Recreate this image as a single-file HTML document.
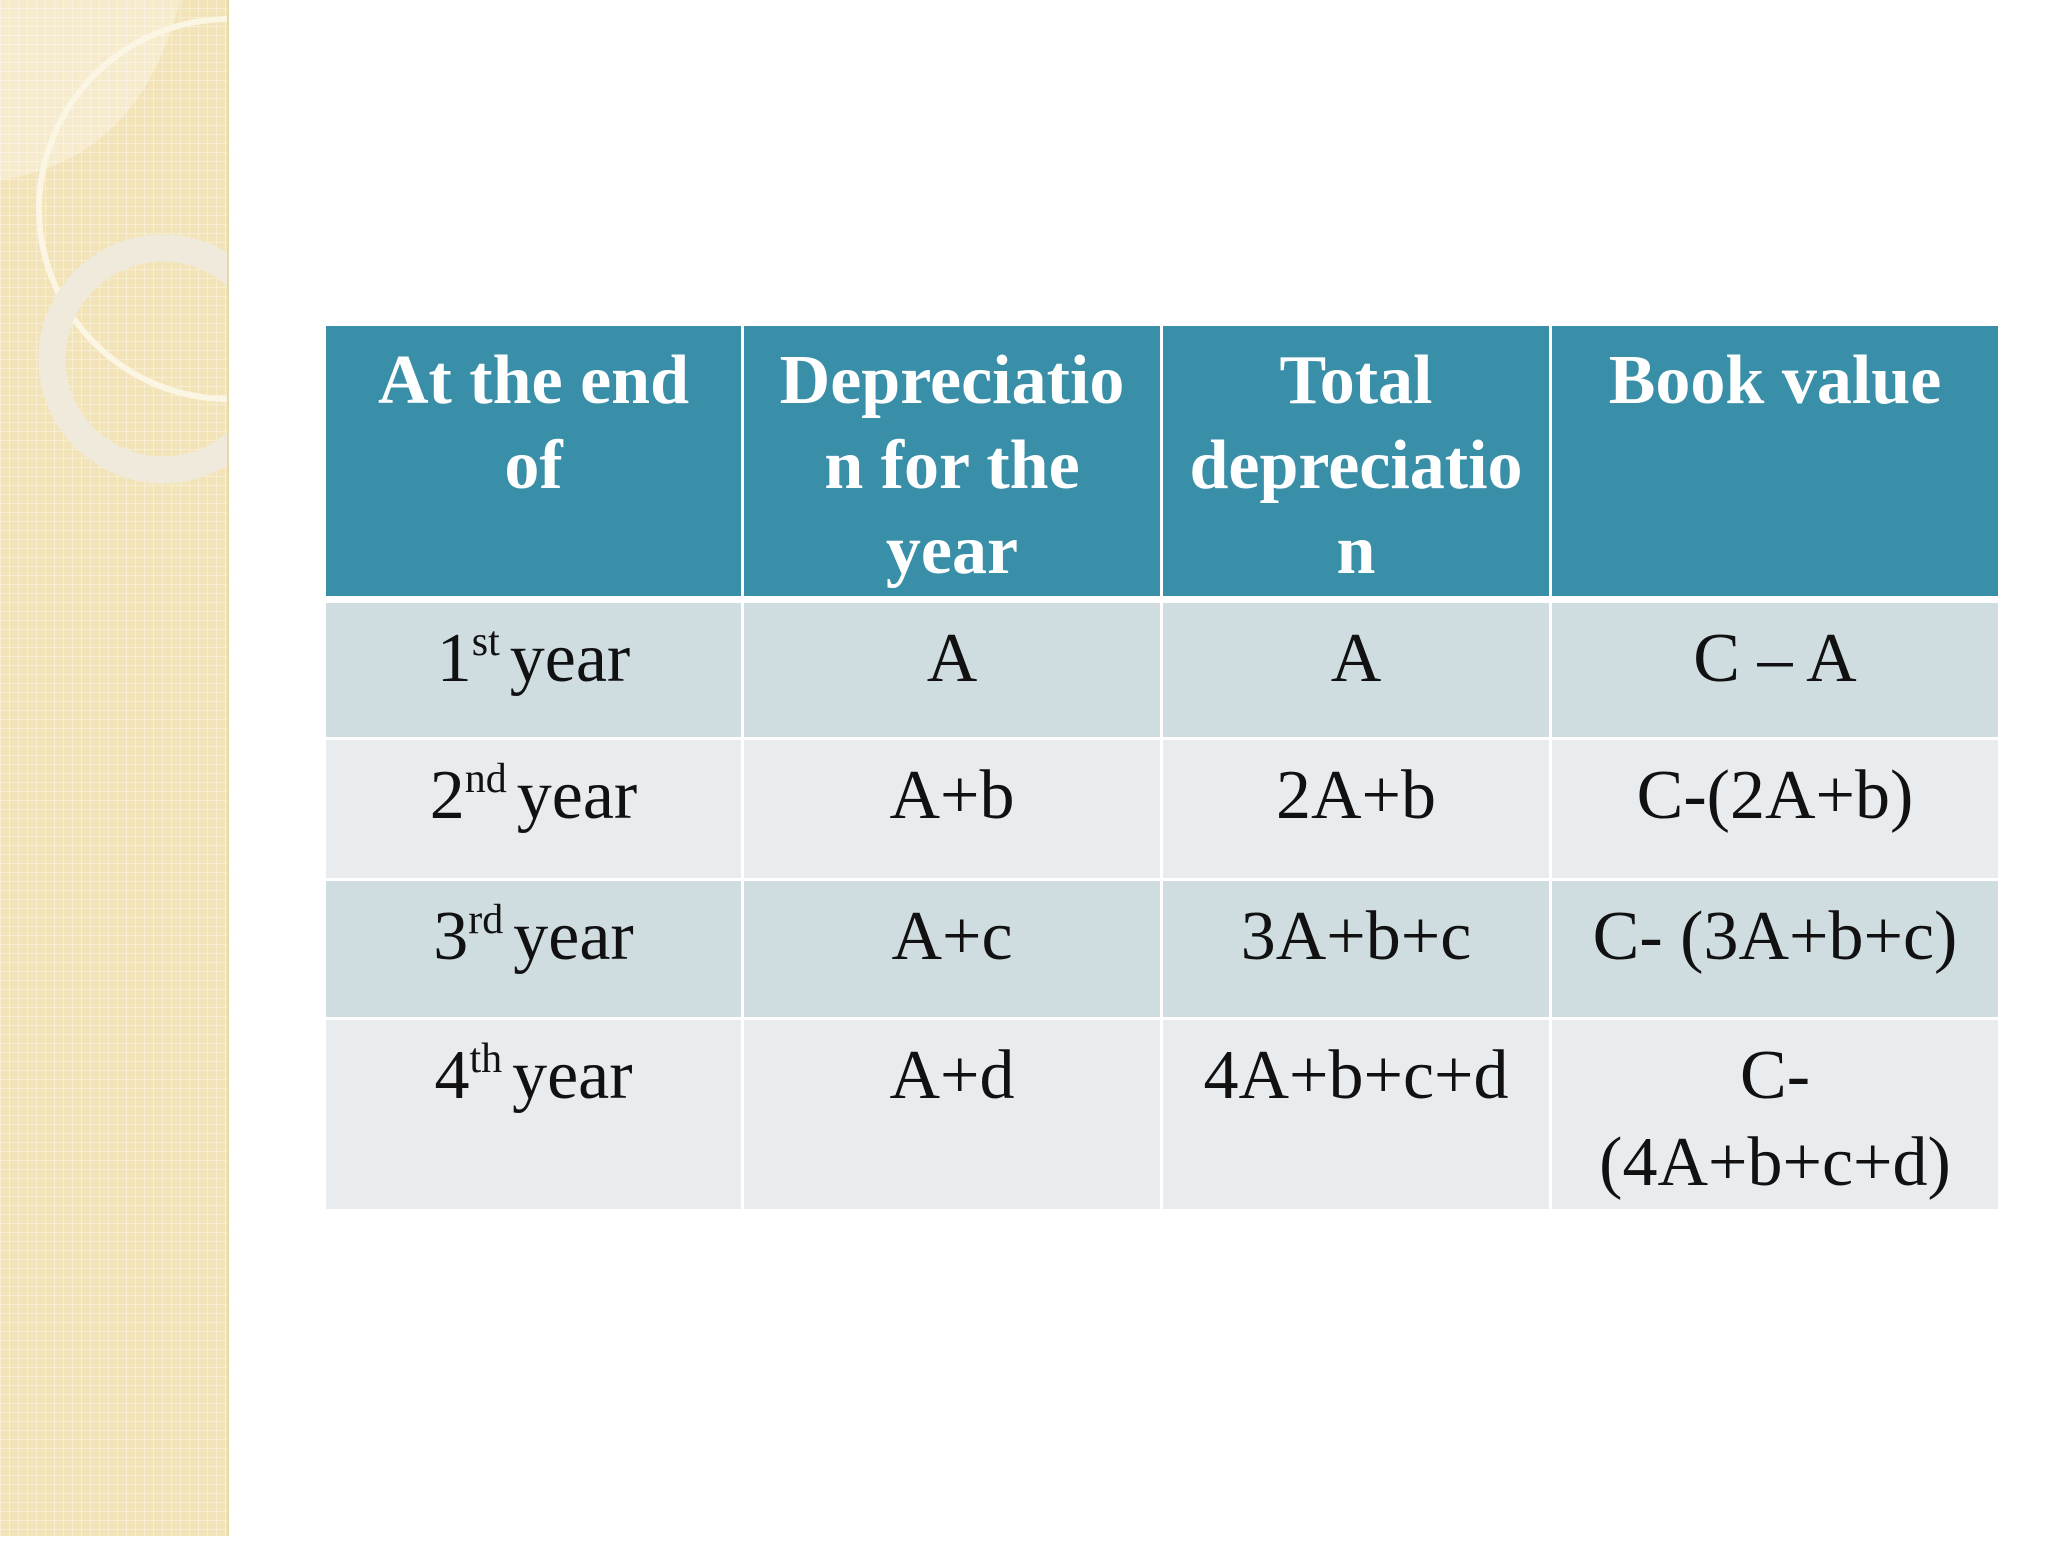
<!DOCTYPE html>
<html><head><meta charset="utf-8"><style>
body{margin:0;width:2048px;height:1536px;background:#fff;position:relative;overflow:hidden;font-family:"Liberation Serif",serif}
#strip{position:absolute;left:0;top:0;width:227px;height:1536px;background-color:#f3e3b8;
background-image:linear-gradient(90deg,rgba(255,255,255,.35) 1px,transparent 1px),linear-gradient(0deg,rgba(255,255,255,.35) 1px,transparent 1px);background-size:9px 9px;border-right:2px solid #e8d7a8}
table{position:absolute;left:323px;top:323px;width:1675px;border-collapse:collapse;table-layout:fixed}
td,th{border:3px solid #fff;text-align:center;vertical-align:top;padding:0;box-sizing:border-box}
th{background:#3a8fa8;color:#fff;font-weight:bold;font-size:70px;line-height:85px;height:275px;padding-top:12px;border-bottom-width:7px}
td{font-size:70px;line-height:87px;color:#111;padding-top:12px}
tr.o td{background:#cfdde1;height:139px}
tr.e td{background:#e8ecef;height:141px}
tr.l td{height:192px}
sup{font-size:42px;vertical-align:baseline;position:relative;top:-26px;line-height:0;margin-right:10px}
</style></head><body>
<div id="strip">
<svg width="227" height="1536">
<path d="M0 0 H180 Q140 160 0 180 Z" fill="rgba(255,255,255,.3)"/>
<circle cx="229" cy="209" r="190" fill="none" stroke="#fbf5e3" stroke-width="6"/>
<circle cx="163" cy="359" r="111" fill="none" stroke="#efeadb" stroke-width="27"/>
</svg></div>
<table>
<colgroup><col style="width:418px"><col style="width:419px"><col style="width:389px"><col style="width:449px"></colgroup>
<tr><th>At the end<br>of</th><th>Depreciatio<br>n for the<br>year</th><th>Total<br>depreciatio<br>n</th><th>Book value</th></tr>
<tr class="o"><td>1<sup>st</sup>year</td><td>A</td><td>A</td><td>C – A</td></tr>
<tr class="e"><td>2<sup>nd</sup>year</td><td>A+b</td><td>2A+b</td><td>C-(2A+b)</td></tr>
<tr class="o"><td>3<sup>rd</sup>year</td><td>A+c</td><td>3A+b+c</td><td>C- (3A+b+c)</td></tr>
<tr class="e l"><td>4<sup>th</sup>year</td><td>A+d</td><td>4A+b+c+d</td><td>C-<br>(4A+b+c+d)</td></tr>
</table>
</body></html>
